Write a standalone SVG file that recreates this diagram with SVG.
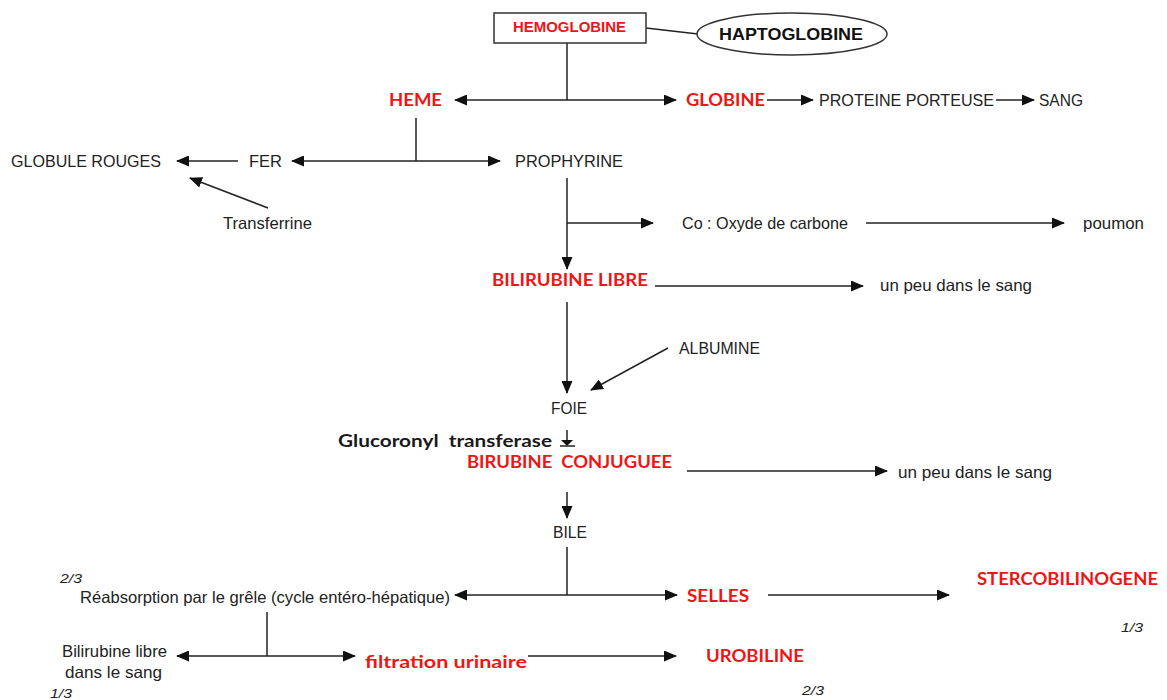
<svg xmlns="http://www.w3.org/2000/svg" width="1167" height="700" viewBox="0 0 1167 700">
<style>
.t{font-family:"Liberation Sans",Arial,sans-serif;font-size:16.5px;fill:#222}
.r{font-family:Lato,"Open Sans",sans-serif;font-weight:bold;font-size:16.5px;fill:#ee1515}
.b{font-family:Lato,"Open Sans",sans-serif;font-weight:bold;font-size:16.5px;fill:#1a1a1a}
.f{font-family:"Liberation Sans",Arial,sans-serif;font-style:italic;font-size:13px;fill:#222}
.c line{stroke:#222;stroke-width:1.5;fill:none}
.a{marker-end:url(#ah)}
.aa{marker-end:url(#ah);marker-start:url(#ah)}
</style>
<defs>
<marker id="ah" markerUnits="userSpaceOnUse" markerWidth="13" markerHeight="11" refX="12" refY="5.5" orient="auto-start-reverse">
<path d="M0,0 L13,5.5 L0,11 z" fill="#111"/>
</marker>
</defs>
<rect width="1167" height="700" fill="#fff"/>
<g id="connectors" class="c">
<line x1="646" y1="28" x2="698" y2="34"/>
<line x1="567" y1="43" x2="567" y2="100"/>
<line class="aa" x1="455" y1="100" x2="676" y2="100"/>
<line class="a" x1="767" y1="100" x2="813" y2="100"/>
<line class="a" x1="996" y1="100" x2="1034" y2="100"/>
<line x1="416" y1="118" x2="416" y2="161"/>
<line class="aa" x1="292" y1="161" x2="500" y2="161"/>
<line class="a" x1="238" y1="161" x2="177" y2="161"/>
<line class="a" x1="268" y1="208" x2="190" y2="178"/>
<line class="a" x1="567" y1="178" x2="567" y2="269"/>
<line class="a" x1="567" y1="223" x2="653" y2="223"/>
<line class="a" x1="866" y1="223" x2="1064" y2="223"/>
<line class="a" x1="655" y1="286" x2="863" y2="286"/>
<line class="a" x1="567" y1="302" x2="567" y2="393"/>
<line class="a" x1="668" y1="348" x2="591" y2="390"/>
<line x1="567" y1="430" x2="567" y2="440"/>
<line class="a" x1="687" y1="471" x2="887" y2="471"/>
<line class="a" x1="567" y1="492" x2="567" y2="518"/>
<line x1="567" y1="547" x2="567" y2="595"/>
<line class="aa" x1="455" y1="595" x2="677" y2="595"/>
<line class="a" x1="768" y1="595" x2="949" y2="595"/>
<line x1="267" y1="612" x2="267" y2="656"/>
<line class="aa" x1="177" y1="656" x2="355" y2="656"/>
<line class="a" x1="528" y1="656" x2="676" y2="656"/>
</g>
<path d="M561,440 L573,440 L567,446 z" fill="#111"/>
<line x1="560" y1="446" x2="575" y2="446" stroke="#222" stroke-width="1.5"/>
<g id="hemoglobine"><rect x="494" y="13" width="152" height="30" fill="#fff" stroke="#333" stroke-width="1.5"/><text class="t" x="513" y="31.5" textLength="113" lengthAdjust="spacingAndGlyphs" style="font-weight:bold;font-size:15px;fill:#ee1515">HEMOGLOBINE</text></g>
<g id="haptoglobine"><ellipse cx="792" cy="34" rx="95" ry="21" fill="#fff" stroke="#333" stroke-width="1.5"/><text class="t" x="719" y="40" textLength="144" lengthAdjust="spacingAndGlyphs" style="font-weight:bold;font-size:17px;fill:#111">HAPTOGLOBINE</text></g>
<g id="heme"><text class="r" x="389" y="106" textLength="53" lengthAdjust="spacingAndGlyphs">HEME</text></g>
<g id="globine"><text class="r" x="686" y="106" textLength="79" lengthAdjust="spacingAndGlyphs">GLOBINE</text></g>
<g id="proteine"><text class="t" x="819" y="106" textLength="175" lengthAdjust="spacingAndGlyphs">PROTEINE PORTEUSE</text></g>
<g id="sang"><text class="t" x="1039" y="106" textLength="44" lengthAdjust="spacingAndGlyphs">SANG</text></g>
<g id="globule"><text class="t" x="11" y="167" textLength="150" lengthAdjust="spacingAndGlyphs">GLOBULE ROUGES</text></g>
<g id="fer"><text class="t" x="249" y="167" textLength="33" lengthAdjust="spacingAndGlyphs">FER</text></g>
<g id="prophyrine"><text class="t" x="515" y="167" textLength="108" lengthAdjust="spacingAndGlyphs">PROPHYRINE</text></g>
<g id="transferrine"><text class="t" x="223" y="229" textLength="89" lengthAdjust="spacingAndGlyphs">Transferrine</text></g>
<g id="co"><text class="t" x="682" y="229" textLength="166" lengthAdjust="spacingAndGlyphs">Co : Oxyde de carbone</text></g>
<g id="poumon"><text class="t" x="1083" y="229" textLength="61" lengthAdjust="spacingAndGlyphs">poumon</text></g>
<g id="bilirubine-libre"><text class="r" x="492" y="286" textLength="156" lengthAdjust="spacingAndGlyphs">BILIRUBINE LIBRE</text></g>
<g id="sang1"><text class="t" x="880" y="291" textLength="152" lengthAdjust="spacingAndGlyphs">un peu dans le sang</text></g>
<g id="albumine"><text class="t" x="679" y="354" textLength="81" lengthAdjust="spacingAndGlyphs">ALBUMINE</text></g>
<g id="foie"><text class="t" x="551" y="414" textLength="36" lengthAdjust="spacingAndGlyphs">FOIE</text></g>
<g id="glucoronyl"><text class="b" x="338" y="447" textLength="214" lengthAdjust="spacingAndGlyphs" xml:space="preserve">Glucoronyl  transferase</text></g>
<g id="birubine-conjuguee"><text class="r" x="467" y="468" textLength="205" lengthAdjust="spacingAndGlyphs" xml:space="preserve">BIRUBINE  CONJUGUEE</text></g>
<g id="sang2"><text class="t" x="898" y="478" textLength="154" lengthAdjust="spacingAndGlyphs">un peu dans le sang</text></g>
<g id="bile"><text class="t" x="553" y="538" textLength="34" lengthAdjust="spacingAndGlyphs">BILE</text></g>
<g id="reabsorption"><text class="f" x="60" y="583" textLength="22" lengthAdjust="spacingAndGlyphs">2/3</text><text class="t" x="80" y="603" textLength="370" lengthAdjust="spacingAndGlyphs">Réabsorption par le grêle (cycle entéro-hépatique)</text></g>
<g id="selles"><text class="r" x="687" y="602" textLength="62" lengthAdjust="spacingAndGlyphs">SELLES</text></g>
<g id="stercobilinogene"><text class="r" x="977" y="585" textLength="181" lengthAdjust="spacingAndGlyphs">STERCOBILINOGENE</text><text class="f" x="1121" y="632" textLength="22" lengthAdjust="spacingAndGlyphs">1/3</text></g>
<g id="bilirubine-sang"><text class="t" x="62" y="657" textLength="105" lengthAdjust="spacingAndGlyphs">Bilirubine libre</text><text class="t" x="65" y="678" textLength="97" lengthAdjust="spacingAndGlyphs">dans le sang</text><text class="f" x="50" y="698" textLength="22" lengthAdjust="spacingAndGlyphs">1/3</text></g>
<g id="filtration"><text class="r" x="365" y="668" textLength="162" lengthAdjust="spacingAndGlyphs">filtration urinaire</text></g>
<g id="urobiline"><text class="r" x="706" y="662" textLength="98" lengthAdjust="spacingAndGlyphs">UROBILINE</text><text class="f" x="802" y="695" textLength="22" lengthAdjust="spacingAndGlyphs">2/3</text></g>
</svg>
